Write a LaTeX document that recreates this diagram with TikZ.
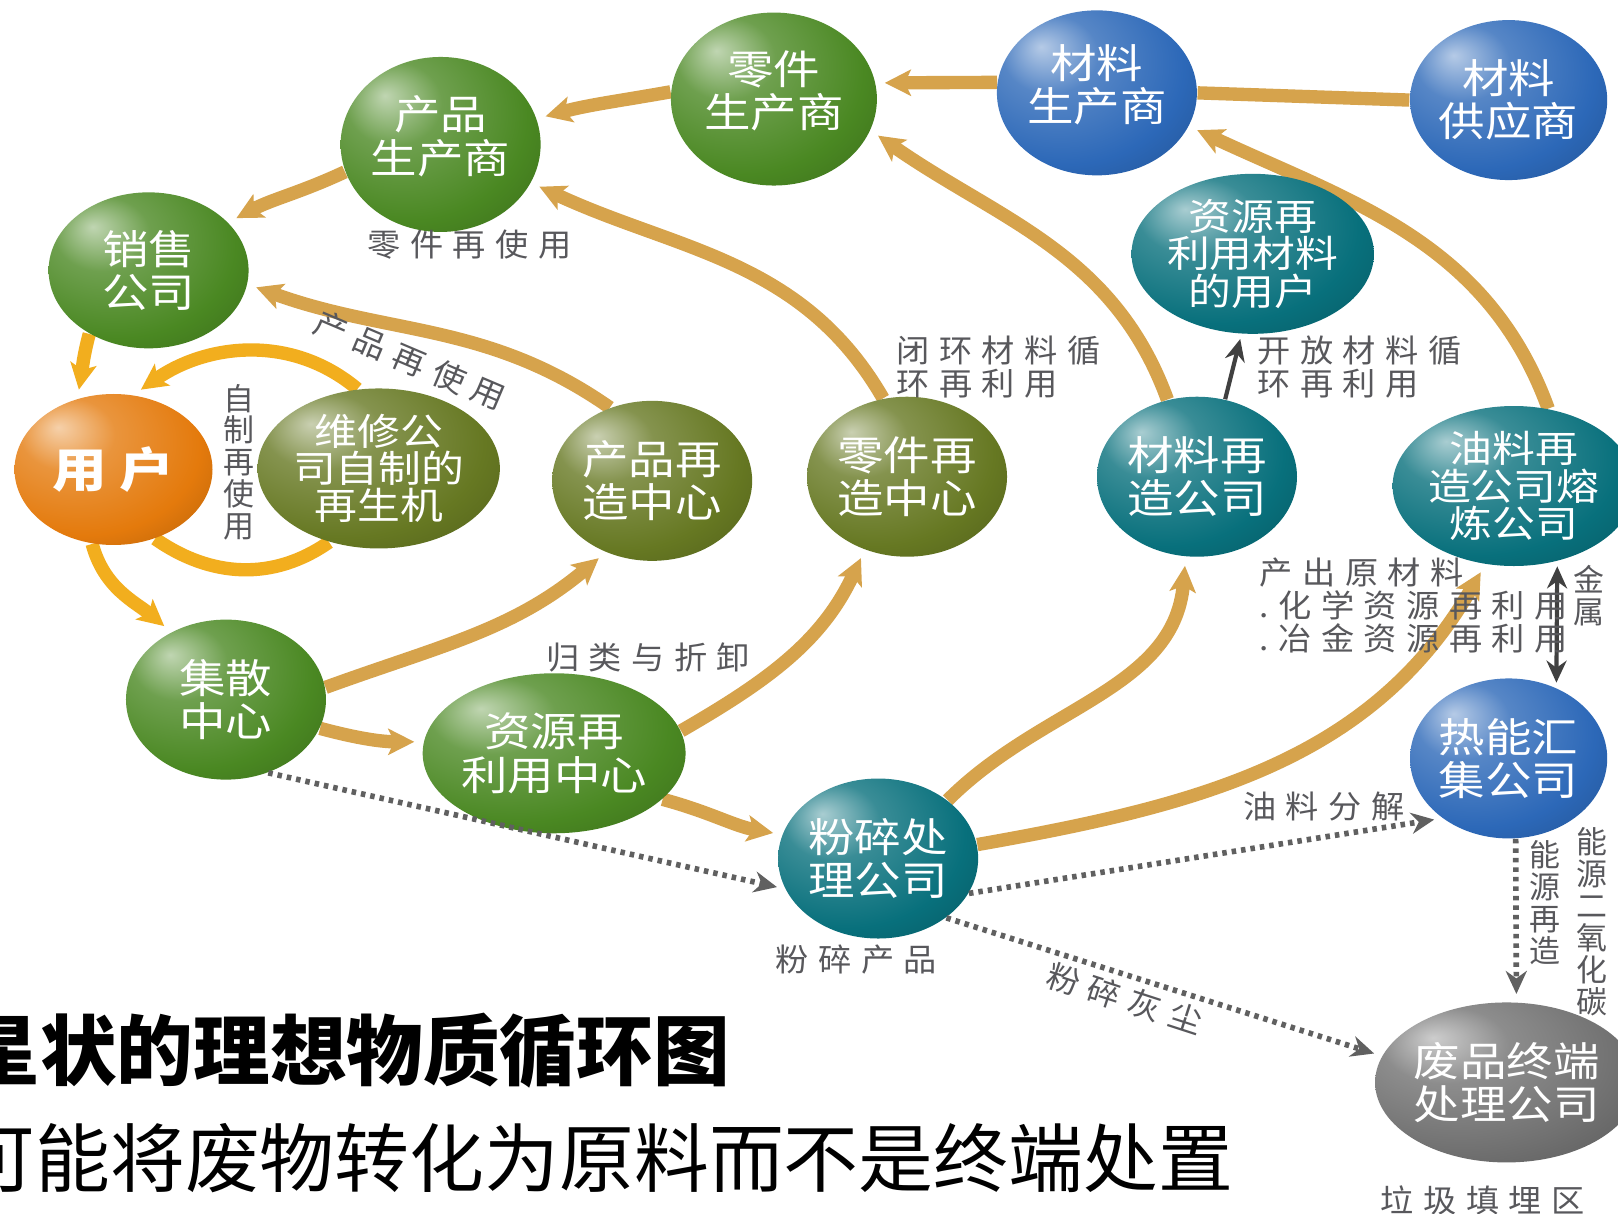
\documentclass[tikz,border=0pt]{standalone}
\usepackage{fontspec}
\newfontfamily\cjk[FakeStretch=1.15]{Noto Sans CJK SC}
\newfontfamily\cjknote[FakeStretch=1.05,LetterSpace=30]{Noto Sans CJK SC}
\newfontfamily\cjkplain{Noto Sans CJK SC}
\usetikzlibrary{arrows.meta, shapes.geometric}
\pgfdeclarelayer{bg}
\pgfsetlayers{bg,main}
\definecolor{ballGreen}{RGB}{74,136,34}
\definecolor{ballOlive}{RGB}{102,120,34}
\definecolor{ballBlue}{RGB}{44,104,184}
\definecolor{ballTeal}{RGB}{8,112,124}
\definecolor{ballOrange}{RGB}{228,122,12}
\definecolor{ballGray}{RGB}{112,112,112}
\definecolor{flowGold}{RGB}{214,163,76}
\definecolor{flowYellow}{RGB}{242,174,30}
\definecolor{noteGray}{RGB}{88,88,92}
\definecolor{dotGray}{RGB}{96,96,96}
\colorlet{orbcol}{ballGreen}
\pgfdeclareradialshading[orbcol]{orb}{\pgfpoint{-14bp}{14bp}}{color(0bp)=(orbcol!35!white); color(12bp)=(orbcol!80!white); color(30bp)=(orbcol); color(52bp)=(orbcol!68!black); color(72bp)=(orbcol!55!black)}
\newcommand{\orbFont}{\cjk\fontsize{11.5}{12.3}\selectfont}
\newcommand{\orbSmall}{\cjk\fontsize{10.6}{10.6}\selectfont}
\newcommand{\userFont}{\cjk\bfseries\fontsize{13.5}{14}\selectfont}
\newcommand{\noteFont}{\cjknote\fontsize{9}{9.4}\selectfont}
\newcommand{\vertFont}{\cjkplain\fontsize{8.8}{9.1}\selectfont}
\tikzset{
    orbNode/.style={ellipse, inner sep=0pt, minimum width=20mm, minimum height=16mm, text=white, align=center, font=\orbFont, /utils/exec={\colorlet{orbcol}{#1}}, shading=orb, shade},
    flowEdge/.style={draw=flowGold, line width=3.8pt, shorten >=0.9mm, -{Stealth[length=2.6mm, width=2.6mm, inset=0.6mm]}},
    flowPlain/.style={draw=flowGold, line width=3.8pt},
    flowAmber/.style={flowEdge, draw=flowYellow},
    amberPlain/.style={flowPlain, draw=flowYellow},
    dotEdge/.style={draw=dotGray, line width=1.6pt, dash pattern=on 0.45mm off 0.5mm, shorten >=0.8mm, -{Stealth[length=2.3mm, width=2.1mm]}},
    thinEdge/.style={draw=black!75, line width=1.2pt, shorten >=0.5mm, -{Stealth[length=2.2mm, width=2mm]}},
    thinBoth/.style={thinEdge, shorten <=0.5mm, {Stealth[length=2.2mm, width=2mm]}-{Stealth[length=2.2mm, width=2mm]}},
    noteText/.style={text=noteGray, font=\noteFont, inner sep=0pt, align=left},
    vertText/.style={text=noteGray, font=\vertFont, inner sep=0pt, align=center},
    bannerText/.style={text=black, inner sep=0pt, anchor=west},
}
\newcommand{\drawFlow}[4][flowEdge]{
    \draw[#1] (#2) to[#4] (#3);
}
\newcommand{\drawDots}[2]{
    \draw[dotEdge] (#1) -- (#2);
}
\begin{document}
\begin{tikzpicture}[x=0.1032mm, y=-0.1032mm]
    \useasboundingbox (0,0) rectangle (1568,1176);

    \node[orbNode=ballGreen, minimum width=20.6mm, minimum height=17.3mm, text depth=2mm] (partMaker) at (750,96) {零件\\生产商};
    \node[orbNode=ballBlue, minimum height=16.5mm, text depth=2mm] (matMaker) at (1063,90) {材料\\生产商};
    \node[orbNode=ballBlue, minimum width=19.3mm] (matSupplier) at (1462,97) {材料\\供应商};
    \node[orbNode=ballGreen, minimum height=17.5mm, text depth=2mm] (prodMaker) at (427,140) {产品\\生产商};
    \node[orbNode=ballGreen, minimum height=15.6mm] (seller) at (144,262) {销售\\公司};
    \node[orbNode=ballTeal, font=\orbSmall] (matUser) at (1214,246) {资源再\\利用材料\\的用户};
    \node[orbNode=ballOrange, minimum width=19.8mm, minimum height=15.1mm, font=\userFont] (user) at (110,455) {用 户};
    \node[orbNode=ballOlive, font=\orbSmall] (repair) at (367,454) {维修公\\司自制的\\再生机};
    \node[orbNode=ballOlive] (prodReman) at (632,466) {产品再\\造中心};
    \node[orbNode=ballOlive] (partReman) at (879,462) {零件再\\造中心};
    \node[orbNode=ballTeal] (matReman) at (1160,462) {材料再\\造公司};
    \node[orbNode=ballTeal, minimum width=19.1mm, font=\orbSmall] (oilReman) at (1467,471) {油料再\\造公司熔\\炼公司};
    \node[orbNode=ballGreen] (hub) at (219,678) {集散\\中心};
    \node[orbNode=ballGreen] (resCenter) at (537,730) {资源再\\利用中心};
    \node[orbNode=ballBlue, minimum width=19.3mm] (heatCo) at (1462,735) {热能汇\\集公司};
    \node[orbNode=ballTeal] (shredder) at (851,832) {粉碎处\\理公司};
    \node[orbNode=ballGray, minimum width=21.2mm] (landfill) at (1460,1049) {废品终端\\处理公司};

    \begin{pgfonlayer}{bg}
        \fill[white] (0,0) rectangle (1568,1176);
        \drawFlow{matMaker.174}{partMaker.9}{}
        \drawFlow[flowPlain]{matMaker.east}{matSupplier.west}{}
        \drawFlow{partMaker.176}{prodMaker.15}{out=190, in=15}
        \drawFlow{prodMaker.196}{seller.31}{out=205, in=28}
        \drawFlow[flowAmber]{seller.227}{user.117}{out=255, in=80}
        \drawFlow[flowAmber]{user.254}{hub.129}{out=285, in=140}
        \drawFlow[flowAmber]{repair.105}{user.75}{out=140, in=35}
        \drawFlow[amberPlain]{user.-59}{repair.236}{out=-35, in=-145}
        \drawFlow{prodReman.120}{seller.-8}{out=145, in=-20}
        \drawFlow{partReman.107}{prodMaker.-23}{out=120, in=-25}
        \drawFlow{matReman.111}{partMaker.-18}{out=110, in=-35}
        \drawFlow{oilReman.66}{matMaker.-20}{out=110, in=-25}
        \drawFlow{hub.7}{prodReman.237}{out=20, in=220}
        \drawFlow{hub.-17}{resCenter.175}{out=-15, in=180}
        \drawFlow{resCenter.10}{partReman.240}{out=30, in=245}
        \drawFlow{resCenter.-23}{shredder.166}{out=-15, in=170}
        \drawFlow{shredder.40}{matReman.262}{out=45, in=265}
        \drawFlow{shredder.8}{oilReman.250}{out=10, in=240}
    \end{pgfonlayer}

    \draw[thinEdge] (matReman.70) -- (matUser.262);
    \draw[thinBoth] (oilReman.-60) -- (heatCo.56);
    \drawDots{hub.-60}{shredder.198}
    \drawDots{shredder.-21}{heatCo.222}
    \drawDots{shredder.-41}{landfill.168}
    \drawDots{heatCo.-85}{landfill.83}

    \node[noteText] (lblPartReuse) at (455,237) {零件再使用};
    \node[noteText, rotate=-23] (lblProdReuse) at (397,349) {产品再使用};
    \node[vertText] (lblSelfReuse) at (232,448) {自\\制\\再\\使\\用};
    \node[noteText, anchor=west] (lblClosed) at (868,356) {闭环材料循\\环再利用};
    \node[noteText, anchor=west] (lblOpen) at (1218,356) {开放材料循\\环再利用};
    \node[noteText, anchor=west] (lblOutput) at (1220,587) {产出原材料\\.化学资源再利用\\.冶金资源再利用};
    \node[vertText] (lblMetal) at (1540,577) {金\\属};
    \node[noteText] (lblSort) at (628,637) {归类与折卸};
    \node[noteText] (lblOil) at (1283,782) {油料分解};
    \node[noteText] (lblShredOut) at (830,930) {粉碎产品};
    \node[noteText, rotate=-18] (lblDust) at (1090,968) {粉碎灰尘};
    \node[vertText] (lblEnergy) at (1497,875) {能\\源\\再\\造};
    \node[vertText] (lblCarbon) at (1543,893) {能\\源\\二\\氧\\化\\碳};
    \node[noteText] (lblLandfill) at (1437,1163) {垃圾填埋区};

    \node[bannerText, font=\cjkplain\bfseries\fontsize{21.8}{22}\selectfont] (title) at (-36,1018) {星状的理想物质循环图};
    \node[bannerText, font=\cjkplain\fontsize{21.3}{22}\selectfont] (subtitle) at (-39,1122) {可能将废物转化为原料而不是终端处置};

\end{tikzpicture}
\end{document}
